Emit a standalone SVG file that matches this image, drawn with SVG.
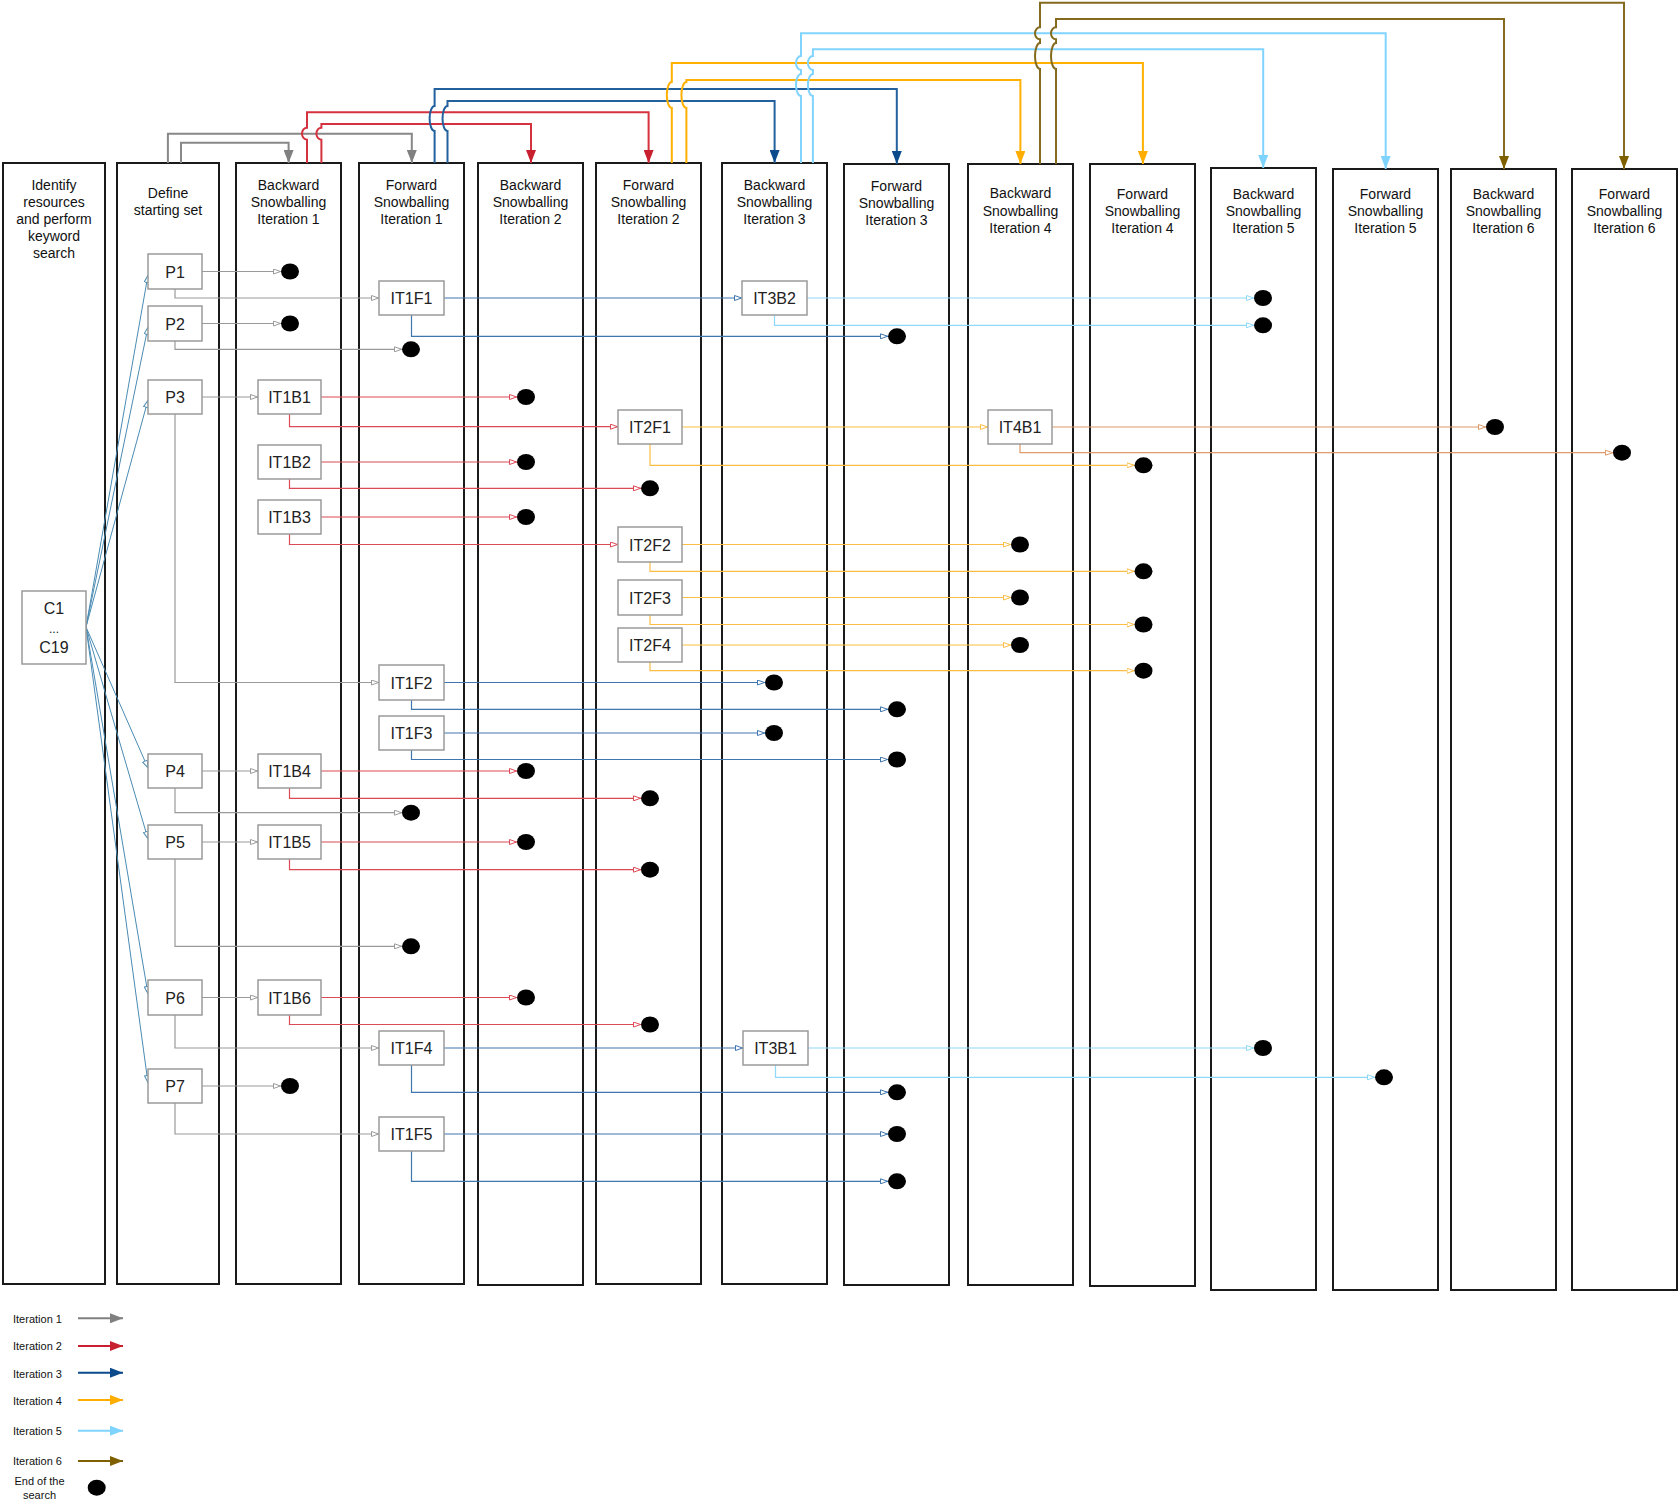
<svg xmlns="http://www.w3.org/2000/svg" width="1680" height="1510" viewBox="0 0 1680 1510">
<style>
.col{fill:#fff;stroke:#1a1a1a;stroke-width:2}
.ttl{font-family:"Liberation Sans",Arial,sans-serif;font-size:14px;text-anchor:middle;fill:#111}
.nd{fill:#fff;stroke:#9a9a9a;stroke-width:1.5}
.nt{font-family:"Liberation Sans",Arial,sans-serif;font-size:16px;text-anchor:middle;fill:#222}
.dot{fill:#000}
.lg{font-family:"Liberation Sans",Arial,sans-serif;font-size:11px;fill:#111}
.k{fill:none;stroke-width:1.2}
.kg{stroke:#9a9a9a;marker-end:url(#oG)}
.kr{stroke:#dc4a55;marker-end:url(#oR)}
.kb{stroke:#3f76ad;marker-end:url(#oB)}
.ko{stroke:#fbbd45;marker-end:url(#oO)}
.kl{stroke:#8fd8f8;marker-end:url(#oL)}
.ks{stroke:#dd9a6a;marker-end:url(#oS)}
.kc{stroke:#4a8bb3;stroke-width:1;marker-end:url(#oC)}
.t{fill:none;stroke-width:2}
.tg{stroke:#888;marker-end:url(#fG)}
.tr{stroke:#d5323f;marker-end:url(#fR)}
.tb{stroke:#22609e;marker-end:url(#fB)}
.to{stroke:#ffb000;marker-end:url(#fO)}
.tl{stroke:#80d4ff;marker-end:url(#fL)}
.tw{stroke:#846a1c;marker-end:url(#fW)}
</style>
<defs>
<marker id="oG" viewBox="0 0 8 6" refX="8" refY="3" markerWidth="8" markerHeight="6" markerUnits="userSpaceOnUse" orient="auto"><path d="M0.5,0.5 L7.5,3 L0.5,5.5 z" fill="#fff" stroke="#9a9a9a"/></marker>
<marker id="oR" viewBox="0 0 8 6" refX="8" refY="3" markerWidth="8" markerHeight="6" markerUnits="userSpaceOnUse" orient="auto"><path d="M0.5,0.5 L7.5,3 L0.5,5.5 z" fill="#fff" stroke="#dc4a55"/></marker>
<marker id="oB" viewBox="0 0 8 6" refX="8" refY="3" markerWidth="8" markerHeight="6" markerUnits="userSpaceOnUse" orient="auto"><path d="M0.5,0.5 L7.5,3 L0.5,5.5 z" fill="#fff" stroke="#3f76ad"/></marker>
<marker id="oO" viewBox="0 0 8 6" refX="8" refY="3" markerWidth="8" markerHeight="6" markerUnits="userSpaceOnUse" orient="auto"><path d="M0.5,0.5 L7.5,3 L0.5,5.5 z" fill="#fff" stroke="#fbbd45"/></marker>
<marker id="oL" viewBox="0 0 8 6" refX="8" refY="3" markerWidth="8" markerHeight="6" markerUnits="userSpaceOnUse" orient="auto"><path d="M0.5,0.5 L7.5,3 L0.5,5.5 z" fill="#fff" stroke="#8fd8f8"/></marker>
<marker id="oS" viewBox="0 0 8 6" refX="8" refY="3" markerWidth="8" markerHeight="6" markerUnits="userSpaceOnUse" orient="auto"><path d="M0.5,0.5 L7.5,3 L0.5,5.5 z" fill="#fff" stroke="#dd9a6a"/></marker>
<marker id="oC" viewBox="0 0 8 6" refX="8" refY="3" markerWidth="8" markerHeight="6" markerUnits="userSpaceOnUse" orient="auto"><path d="M0.5,0.5 L7.5,3 L0.5,5.5 z" fill="#fff" stroke="#4a8bb3"/></marker>
<marker id="fG" viewBox="0 0 13 10" refX="13" refY="5" markerWidth="13" markerHeight="10" markerUnits="userSpaceOnUse" orient="auto"><path d="M0,0 L13,5 L0,10 z" fill="#808080"/></marker>
<marker id="fR" viewBox="0 0 13 10" refX="13" refY="5" markerWidth="13" markerHeight="10" markerUnits="userSpaceOnUse" orient="auto"><path d="M0,0 L13,5 L0,10 z" fill="#c8202f"/></marker>
<marker id="fB" viewBox="0 0 13 10" refX="13" refY="5" markerWidth="13" markerHeight="10" markerUnits="userSpaceOnUse" orient="auto"><path d="M0,0 L13,5 L0,10 z" fill="#0b4a8b"/></marker>
<marker id="fO" viewBox="0 0 13 10" refX="13" refY="5" markerWidth="13" markerHeight="10" markerUnits="userSpaceOnUse" orient="auto"><path d="M0,0 L13,5 L0,10 z" fill="#ffad00"/></marker>
<marker id="fL" viewBox="0 0 13 10" refX="13" refY="5" markerWidth="13" markerHeight="10" markerUnits="userSpaceOnUse" orient="auto"><path d="M0,0 L13,5 L0,10 z" fill="#7fd4ff"/></marker>
<marker id="fW" viewBox="0 0 13 10" refX="13" refY="5" markerWidth="13" markerHeight="10" markerUnits="userSpaceOnUse" orient="auto"><path d="M0,0 L13,5 L0,10 z" fill="#7f6000"/></marker>
</defs>
<rect width="1680" height="1510" fill="#fff"/>

<g id="col1"><rect class="col" x="3" y="163" width="102" height="1121"/><text class="ttl" x="54"><tspan x="54" y="190">Identify</tspan><tspan x="54" y="207">resources</tspan><tspan x="54" y="224">and perform</tspan><tspan x="54" y="241">keyword</tspan><tspan x="54" y="258">search</tspan></text></g>
<g id="col2"><rect class="col" x="117" y="163" width="102" height="1121"/><text class="ttl"><tspan x="168" y="198">Define</tspan><tspan x="168" y="215">starting set</tspan></text></g>
<g id="col3"><rect class="col" x="236" y="163" width="105" height="1121"/><text class="ttl"><tspan x="288.5" y="190">Backward</tspan><tspan x="288.5" y="207">Snowballing</tspan><tspan x="288.5" y="224">Iteration 1</tspan></text></g>
<g id="col4"><rect class="col" x="359" y="163" width="105" height="1121"/><text class="ttl"><tspan x="411.5" y="190">Forward</tspan><tspan x="411.5" y="207">Snowballing</tspan><tspan x="411.5" y="224">Iteration 1</tspan></text></g>
<g id="col5"><rect class="col" x="478" y="163" width="105" height="1122"/><text class="ttl"><tspan x="530.5" y="190">Backward</tspan><tspan x="530.5" y="207">Snowballing</tspan><tspan x="530.5" y="224">Iteration 2</tspan></text></g>
<g id="col6"><rect class="col" x="596" y="163" width="105" height="1121"/><text class="ttl"><tspan x="648.5" y="190">Forward</tspan><tspan x="648.5" y="207">Snowballing</tspan><tspan x="648.5" y="224">Iteration 2</tspan></text></g>
<g id="col7"><rect class="col" x="722" y="163" width="105" height="1121"/><text class="ttl"><tspan x="774.5" y="190">Backward</tspan><tspan x="774.5" y="207">Snowballing</tspan><tspan x="774.5" y="224">Iteration 3</tspan></text></g>
<g id="col8"><rect class="col" x="844" y="164" width="105" height="1121"/><text class="ttl"><tspan x="896.5" y="191">Forward</tspan><tspan x="896.5" y="208">Snowballing</tspan><tspan x="896.5" y="225">Iteration 3</tspan></text></g>
<g id="col9"><rect class="col" x="968" y="164" width="105" height="1121"/><text class="ttl"><tspan x="1020.5" y="198">Backward</tspan><tspan x="1020.5" y="216">Snowballing</tspan><tspan x="1020.5" y="233">Iteration 4</tspan></text></g>
<g id="col10"><rect class="col" x="1090" y="164" width="105" height="1122"/><text class="ttl"><tspan x="1142.5" y="199">Forward</tspan><tspan x="1142.5" y="216">Snowballing</tspan><tspan x="1142.5" y="233">Iteration 4</tspan></text></g>
<g id="col11"><rect class="col" x="1211" y="168" width="105" height="1122"/><text class="ttl"><tspan x="1263.5" y="199">Backward</tspan><tspan x="1263.5" y="216">Snowballing</tspan><tspan x="1263.5" y="233">Iteration 5</tspan></text></g>
<g id="col12"><rect class="col" x="1333" y="169" width="105" height="1121"/><text class="ttl"><tspan x="1385.5" y="199">Forward</tspan><tspan x="1385.5" y="216">Snowballing</tspan><tspan x="1385.5" y="233">Iteration 5</tspan></text></g>
<g id="col13"><rect class="col" x="1451" y="169" width="105" height="1121"/><text class="ttl"><tspan x="1503.5" y="199">Backward</tspan><tspan x="1503.5" y="216">Snowballing</tspan><tspan x="1503.5" y="233">Iteration 6</tspan></text></g>
<g id="col14"><rect class="col" x="1572" y="169" width="105" height="1121"/><text class="ttl"><tspan x="1624.5" y="199">Forward</tspan><tspan x="1624.5" y="216">Snowballing</tspan><tspan x="1624.5" y="233">Iteration 6</tspan></text></g>

<g id="connectors">
<!-- top flows -->
<path class="t tg" d="M167.9 163 V133.7 H411.8 V163"/>
<path class="t tg" d="M181 163 V142.7 H288.6 V163"/>
<path class="t tr" d="M307 163 V139.7 A5 6 0 0 1 307 127.7 V112.3 H648.6 V163"/>
<path class="t tr" d="M321.4 163 V139.7 A5 6 0 0 1 321.4 127.7 V124 H531 V163"/>
<path class="t tb" d="M434.6 163 V131 A5 12.5 0 0 1 434.6 106 V89 H896.8 V164"/>
<path class="t tb" d="M447.5 163 V131 A5 12.5 0 0 1 447.5 106 V101 H774.6 V163"/>
<path class="t to" d="M671.8 163 V108 A5 13 0 0 1 671.8 82 V63 H1142.9 V164"/>
<path class="t to" d="M686.4 163 V108 A5 13 0 0 1 686.4 82 V80 H1020.4 V164"/>
<path class="t tl" d="M801 163 V96 A5 11 0 0 1 801 74 V70 A5 7 0 0 1 801 56 V33.3 H1385.7 V169"/>
<path class="t tl" d="M812.9 163 V96 A5 11 0 0 1 812.9 74 V70 A5 7 0 0 1 812.9 56 V49.3 H1263.2 V168"/>
<path class="t tw" d="M1040 164 V69 A5 13 0 0 1 1040 43 V39.3 A5 6 0 0 1 1040 27.3 V2.7 H1624 V169"/>
<path class="t tw" d="M1056 164 V69 A5 13 0 0 1 1056 43 V39.3 A5 6 0 0 1 1056 27.3 V19 H1504 V169"/>
<!-- C1..C19 to P -->
<path class="kc" d="M86 627 L148 275"/>
<path class="kc" d="M86 627 L148 327"/>
<path class="kc" d="M86 627 L148 400"/>
<path class="kc" d="M86 627 L148 768"/>
<path class="kc" d="M86 627 L148 839"/>
<path class="kc" d="M86 627 L148 994"/>
<path class="kc" d="M86 627 L148 1083"/>
<!-- iteration 1 -->
<path class="k kg" d="M202 271.5 H281"/>
<path class="k kg" d="M175 289 V298 H379"/>
<path class="k kg" d="M202 323.5 H281"/>
<path class="k kg" d="M175 341 V349.3 H402"/>
<path class="k kg" d="M202 397 H258"/>
<path class="k kg" d="M175 414 V682.5 H379"/>
<path class="k kg" d="M202 771 H258"/>
<path class="k kg" d="M175 788 V812.7 H402"/>
<path class="k kg" d="M202 842 H258"/>
<path class="k kg" d="M175 859 V946.3 H402"/>
<path class="k kg" d="M202 997.5 H258"/>
<path class="k kg" d="M175 1015 V1048 H379"/>
<path class="k kg" d="M202 1086 H281"/>
<path class="k kg" d="M175 1103 V1134 H379"/>
<!-- iteration 2 -->
<path class="k kr" d="M321 397 H517"/>
<path class="k kr" d="M289.5 414 V426.7 H618"/>
<path class="k kr" d="M321 462 H517"/>
<path class="k kr" d="M289.5 479 V488.3 H641"/>
<path class="k kr" d="M321 517 H517"/>
<path class="k kr" d="M289.5 534 V544.5 H618"/>
<path class="k kr" d="M321 771 H517"/>
<path class="k kr" d="M289.5 788 V798.3 H641"/>
<path class="k kr" d="M321 842 H517"/>
<path class="k kr" d="M289.5 859 V869.7 H641"/>
<path class="k kr" d="M321 997.5 H517"/>
<path class="k kr" d="M289.5 1015 V1024.5 H641"/>
<!-- iteration 3 -->
<path class="k kb" d="M444 298 H742"/>
<path class="k kb" d="M411.5 315 V336.3 H888"/>
<path class="k kb" d="M444 682.5 H765"/>
<path class="k kb" d="M411.5 700 V709.3 H888"/>
<path class="k kb" d="M444 733 H765"/>
<path class="k kb" d="M411.5 750 V759.5 H888"/>
<path class="k kb" d="M444 1048 H743"/>
<path class="k kb" d="M411.5 1065 V1092.3 H888"/>
<path class="k kb" d="M444 1134 H888"/>
<path class="k kb" d="M411.5 1151 V1181.3 H888"/>
<!-- iteration 4 -->
<path class="k ko" d="M682 427 H988"/>
<path class="k ko" d="M650 444 V465.3 H1134.5"/>
<path class="k ko" d="M682 544.5 H1011"/>
<path class="k ko" d="M650 562 V571.3 H1134.5"/>
<path class="k ko" d="M682 597.5 H1011"/>
<path class="k ko" d="M650 615 V624.5 H1134.5"/>
<path class="k ko" d="M682 645 H1011"/>
<path class="k ko" d="M650 662 V670.7 H1134.5"/>
<!-- iteration 5 -->
<path class="k kl" d="M807 298 H1254"/>
<path class="k kl" d="M774.5 315 V325.3 H1254"/>
<path class="k kl" d="M808 1048 H1254"/>
<path class="k kl" d="M775.5 1065 V1077.3 H1375"/>
<!-- iteration 6 -->
<path class="k ks" d="M1052 427 H1486"/>
<path class="k ks" d="M1020 444 V452.7 H1613"/>
</g>

<g id="C1"><rect class="nd" x="22" y="591" width="64" height="73"/><text class="nt" x="54" y="614">C1</text><text class="nt" x="54" y="633" style="font-size:12px">...</text><text class="nt" x="54" y="653">C19</text></g>
<g id="P1"><rect class="nd" x="148" y="254" width="54" height="35"/><text class="nt" x="175" y="277.5">P1</text></g>
<g id="P2"><rect class="nd" x="148" y="306" width="54" height="35"/><text class="nt" x="175" y="329.5">P2</text></g>
<g id="P3"><rect class="nd" x="148" y="380" width="54" height="34"/><text class="nt" x="175" y="403">P3</text></g>
<g id="P4"><rect class="nd" x="148" y="754" width="54" height="34"/><text class="nt" x="175" y="777">P4</text></g>
<g id="P5"><rect class="nd" x="148" y="825" width="54" height="34"/><text class="nt" x="175" y="848">P5</text></g>
<g id="P6"><rect class="nd" x="148" y="980" width="54" height="35"/><text class="nt" x="175" y="1003.5">P6</text></g>
<g id="P7"><rect class="nd" x="148" y="1069" width="54" height="34"/><text class="nt" x="175" y="1092">P7</text></g>
<g id="IT1B1"><rect class="nd" x="258" y="380" width="63" height="34"/><text class="nt" x="289.5" y="403">IT1B1</text></g>
<g id="IT1B2"><rect class="nd" x="258" y="445" width="63" height="34"/><text class="nt" x="289.5" y="468">IT1B2</text></g>
<g id="IT1B3"><rect class="nd" x="258" y="500" width="63" height="34"/><text class="nt" x="289.5" y="523">IT1B3</text></g>
<g id="IT1B4"><rect class="nd" x="258" y="754" width="63" height="34"/><text class="nt" x="289.5" y="777">IT1B4</text></g>
<g id="IT1B5"><rect class="nd" x="258" y="825" width="63" height="34"/><text class="nt" x="289.5" y="848">IT1B5</text></g>
<g id="IT1B6"><rect class="nd" x="258" y="980" width="63" height="35"/><text class="nt" x="289.5" y="1003.5">IT1B6</text></g>
<g id="IT1F1"><rect class="nd" x="379" y="281" width="65" height="34"/><text class="nt" x="411.5" y="304">IT1F1</text></g>
<g id="IT1F2"><rect class="nd" x="379" y="665" width="65" height="35"/><text class="nt" x="411.5" y="688.5">IT1F2</text></g>
<g id="IT1F3"><rect class="nd" x="379" y="716" width="65" height="34"/><text class="nt" x="411.5" y="739">IT1F3</text></g>
<g id="IT1F4"><rect class="nd" x="379" y="1031" width="65" height="34"/><text class="nt" x="411.5" y="1054">IT1F4</text></g>
<g id="IT1F5"><rect class="nd" x="379" y="1117" width="65" height="34"/><text class="nt" x="411.5" y="1140">IT1F5</text></g>
<g id="IT2F1"><rect class="nd" x="618" y="410" width="64" height="34"/><text class="nt" x="650" y="433">IT2F1</text></g>
<g id="IT2F2"><rect class="nd" x="618" y="527" width="64" height="35"/><text class="nt" x="650" y="550.5">IT2F2</text></g>
<g id="IT2F3"><rect class="nd" x="618" y="580" width="64" height="35"/><text class="nt" x="650" y="603.5">IT2F3</text></g>
<g id="IT2F4"><rect class="nd" x="618" y="628" width="64" height="34"/><text class="nt" x="650" y="651">IT2F4</text></g>
<g id="IT3B2"><rect class="nd" x="742" y="281" width="65" height="34"/><text class="nt" x="774.5" y="304">IT3B2</text></g>
<g id="IT3B1"><rect class="nd" x="743" y="1031" width="65" height="34"/><text class="nt" x="775.5" y="1054">IT3B1</text></g>
<g id="IT4B1"><rect class="nd" x="988" y="410" width="64" height="34"/><text class="nt" x="1020" y="433">IT4B1</text></g>

<g id="end1"><ellipse class="dot" cx="290" cy="271.5" rx="9" ry="8"/></g>
<g id="end2"><ellipse class="dot" cx="290" cy="323.5" rx="9" ry="8"/></g>
<g id="end3"><ellipse class="dot" cx="411" cy="349.3" rx="9" ry="8"/></g>
<g id="end4"><ellipse class="dot" cx="526" cy="397" rx="9" ry="8"/></g>
<g id="end5"><ellipse class="dot" cx="526" cy="462" rx="9" ry="8"/></g>
<g id="end6"><ellipse class="dot" cx="526" cy="517" rx="9" ry="8"/></g>
<g id="end7"><ellipse class="dot" cx="897" cy="336.3" rx="9" ry="8"/></g>
<g id="end8"><ellipse class="dot" cx="1263" cy="298" rx="9" ry="8"/></g>
<g id="end9"><ellipse class="dot" cx="1263" cy="325.3" rx="9" ry="8"/></g>
<g id="end10"><ellipse class="dot" cx="650" cy="488.3" rx="9" ry="8"/></g>
<g id="end11"><ellipse class="dot" cx="1495" cy="427" rx="9" ry="8"/></g>
<g id="end12"><ellipse class="dot" cx="1622" cy="452.7" rx="9" ry="8"/></g>
<g id="end13"><ellipse class="dot" cx="1143.5" cy="465.3" rx="9" ry="8"/></g>
<g id="end14"><ellipse class="dot" cx="1020" cy="544.5" rx="9" ry="8"/></g>
<g id="end15"><ellipse class="dot" cx="1143.5" cy="571.3" rx="9" ry="8"/></g>
<g id="end16"><ellipse class="dot" cx="1020" cy="597.5" rx="9" ry="8"/></g>
<g id="end17"><ellipse class="dot" cx="1143.5" cy="624.5" rx="9" ry="8"/></g>
<g id="end18"><ellipse class="dot" cx="1020" cy="645" rx="9" ry="8"/></g>
<g id="end19"><ellipse class="dot" cx="1143.5" cy="670.7" rx="9" ry="8"/></g>
<g id="end20"><ellipse class="dot" cx="774" cy="682.5" rx="9" ry="8"/></g>
<g id="end21"><ellipse class="dot" cx="897" cy="709.3" rx="9" ry="8"/></g>
<g id="end22"><ellipse class="dot" cx="774" cy="733" rx="9" ry="8"/></g>
<g id="end23"><ellipse class="dot" cx="897" cy="759.5" rx="9" ry="8"/></g>
<g id="end24"><ellipse class="dot" cx="526" cy="771" rx="9" ry="8"/></g>
<g id="end25"><ellipse class="dot" cx="411" cy="812.7" rx="9" ry="8"/></g>
<g id="end26"><ellipse class="dot" cx="650" cy="798.3" rx="9" ry="8"/></g>
<g id="end27"><ellipse class="dot" cx="526" cy="842" rx="9" ry="8"/></g>
<g id="end28"><ellipse class="dot" cx="650" cy="869.7" rx="9" ry="8"/></g>
<g id="end29"><ellipse class="dot" cx="411" cy="946.3" rx="9" ry="8"/></g>
<g id="end30"><ellipse class="dot" cx="526" cy="997.5" rx="9" ry="8"/></g>
<g id="end31"><ellipse class="dot" cx="650" cy="1024.5" rx="9" ry="8"/></g>
<g id="end32"><ellipse class="dot" cx="1263" cy="1048" rx="9" ry="8"/></g>
<g id="end33"><ellipse class="dot" cx="1384" cy="1077.3" rx="9" ry="8"/></g>
<g id="end34"><ellipse class="dot" cx="290" cy="1086" rx="9" ry="8"/></g>
<g id="end35"><ellipse class="dot" cx="897" cy="1092.3" rx="9" ry="8"/></g>
<g id="end36"><ellipse class="dot" cx="897" cy="1134" rx="9" ry="8"/></g>
<g id="end37"><ellipse class="dot" cx="897" cy="1181.3" rx="9" ry="8"/></g>

<g id="legend">
<text class="lg" x="13" y="1323">Iteration 1</text>
<path class="t" stroke="#808080" marker-end="url(#fG)" d="M78 1318.3 H123"/>
<text class="lg" x="13" y="1350">Iteration 2</text>
<path class="t" stroke="#c8202f" marker-end="url(#fR)" d="M78 1346 H123"/>
<text class="lg" x="13" y="1377.5">Iteration 3</text>
<path class="t" stroke="#0b4a8b" marker-end="url(#fB)" d="M78 1372.7 H123"/>
<text class="lg" x="13" y="1405">Iteration 4</text>
<path class="t" stroke="#ffad00" marker-end="url(#fO)" d="M78 1400 H123"/>
<text class="lg" x="13" y="1435">Iteration 5</text>
<path class="t" stroke="#7fd4ff" marker-end="url(#fL)" d="M78 1430.7 H123"/>
<text class="lg" x="13" y="1465">Iteration 6</text>
<path class="t" stroke="#7f6000" marker-end="url(#fW)" d="M78 1461 H123"/>
<text class="lg" x="39.5" y="1485" text-anchor="middle">End of the</text>
<text class="lg" x="39.5" y="1499" text-anchor="middle">search</text>
<ellipse class="dot" cx="96.7" cy="1487.7" rx="9" ry="8"/>
</g>
</svg>
